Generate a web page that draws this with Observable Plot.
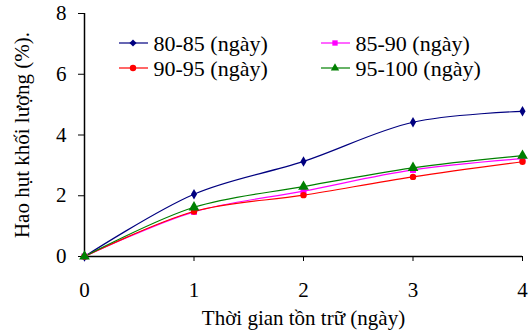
<!DOCTYPE html>
<html>
<head>
<meta charset="utf-8">
<script src="https://cdn.jsdelivr.net/npm/d3@7"></script>
<script src="https://cdn.jsdelivr.net/npm/@observablehq/plot@0.6"></script>
<style>
  body { margin: 0; background: #fff; }
  #chart { width: 531px; height: 333px; }
</style>
</head>
<body>
<div id="chart"></div>
<script>
const days = [0, 1, 2, 3, 4];
const seriesNames = ["80-85 (ngày)", "85-90 (ngày)", "90-95 (ngày)", "95-100 (ngày)"];
const s8085 = [0, 2.05, 3.13, 4.42, 4.78];
const s8590 = [0, 1.47, 2.15, 2.85, 3.22];
const s9095 = [0, 1.48, 2.02, 2.62, 3.12];
const s95100 = [0, 1.62, 2.30, 2.92, 3.32];
const colors = ["#000080", "#ff00ff", "#ff0000", "#008000"];
const symbols = ["diamond", "square", "circle", "triangle"];
const sizes = [3.2, 3.4, 3.2, 4];
const xTicks = [0, 1, 2, 3, 4];
const yTicks = [0, 2, 4, 6, 8];
const xTitle = "Thời gian tồn trữ (ngày)";
const yTitle = "Hao hụt khối lượng (%).";

const allValues = [s8085, s8590, s9095, s95100];
const data = [];
seriesNames.forEach((name, i) => {
  days.forEach((d, j) => data.push({series: name, idx: i, day: d, value: allValues[i][j]}));
});

const serif = '"Liberation Serif", "Times New Roman", serif';

const marks = [];
seriesNames.forEach((name, i) => {
  const rows = data.filter(r => r.idx === i);
  marks.push(Plot.line(rows, {x: "day", y: "value", stroke: colors[i], strokeWidth: 1.2, curve: "catmull-rom"}));
});
[0, 1, 2, 3].forEach(i => {
  const rows = data.filter(r => r.idx === i);
  marks.push(Plot.dot(rows, {x: "day", y: "value", fill: colors[i], stroke: "none", symbol: symbols[i], r: sizes[i]}));
});

// legend (layout offsets relative to the frame's top-left corner)
const legendOffsets = [[35, 30], [237, 30], [35, 55], [237, 55]];
const legendMarks = [];
seriesNames.forEach((name, i) => {
  const [ox, oy] = legendOffsets[i];
  legendMarks.push(Plot.text([name], {frameAnchor: "top-left", dx: ox + 34, dy: oy, textAnchor: "start",
    lineAnchor: "middle", fontSize: 22, fontFamily: serif, fill: "#000"}));
});

const plot = Plot.plot({
  width: 531,
  height: 333,
  marginLeft: 84,
  marginRight: 9,
  marginTop: 13,
  marginBottom: 77,
  style: {fontFamily: serif, fontSize: "20px", color: "#000", background: "#fff", overflow: "visible"},
  x: {domain: [0, 4]},
  y: {domain: [0, 8]},
  marks: [
    Plot.axisX({ticks: xTicks, tickSize: 5, tickPadding: 21, tickFormat: d => String(d), fontSize: 21, fontFamily: serif,
      label: null}),
    Plot.axisY({ticks: yTicks, tickSize: 6, tickPadding: 12, tickFormat: d => String(d), fontSize: 21, fontFamily: serif,
      label: null}),
    Plot.axisX({ticks: [], tickSize: 0, label: xTitle, labelAnchor: "center", labelArrow: "none", labelOffset: 68, fontSize: 21, fontFamily: serif}),
    Plot.axisY({ticks: [], tickSize: 0, label: yTitle, labelAnchor: "center", labelArrow: "none", labelOffset: 70, fontSize: 21, fontFamily: serif}),
    Plot.ruleY([0], {stroke: "#000", strokeWidth: 1.5}),
    Plot.ruleX([0], {stroke: "#000", strokeWidth: 1.5}),
    ...marks,
    ...legendMarks
  ]
});
document.getElementById("chart").appendChild(plot);

// legend swatches (line + marker)
const svg = d3.select(plot);
const sw = svg.append("g").attr("transform", "translate(84,13)");
seriesNames.forEach((name, i) => {
  const [ox, oy] = legendOffsets[i];
  const g = sw.append("g").attr("transform", `translate(${ox},${oy})`);
  g.append("line").attr("x1", 0).attr("x2", 29).attr("y1", 0).attr("y2", 0)
    .attr("stroke", colors[i]).attr("stroke-width", 1.2);
  const sym = d3.symbol().type({diamond: d3.symbolDiamond2, square: d3.symbolSquare2, circle: d3.symbolCircle, triangle: d3.symbolTriangle2}[symbols[i]])
    .size(Math.PI * sizes[i] * sizes[i]);
  g.append("path").attr("d", sym()).attr("transform", "translate(14,0)").attr("fill", colors[i]);
});
</script>
</body>
</html>
